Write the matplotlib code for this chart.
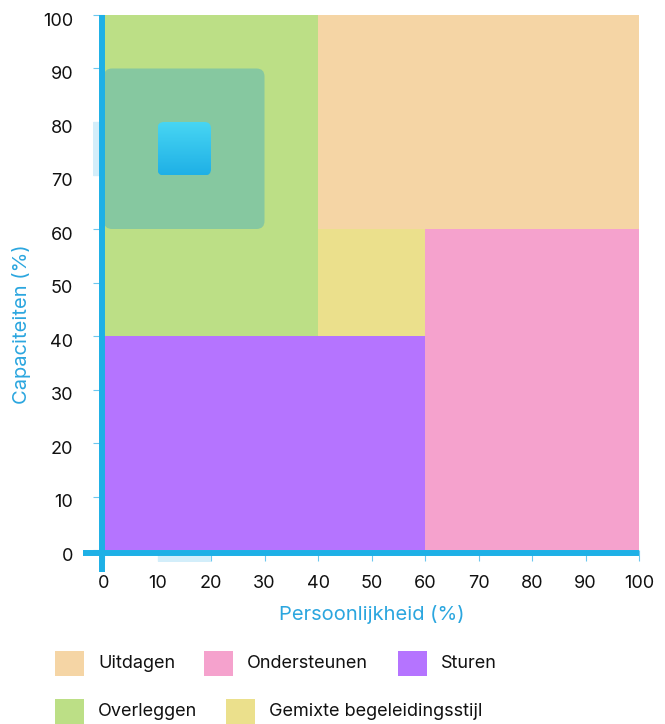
import numpy as np
import matplotlib
matplotlib.use("Agg")
import matplotlib.pyplot as plt
import matplotlib.transforms as mtransforms
from matplotlib.patches import Rectangle, FancyBboxPatch

plt.rcParams["font.family"] = ["Inter", "DejaVu Sans"]

# zones of the matrix (x = Persoonlijkheid, y = Capaciteiten)
zone_names = ["Uitdagen", "Ondersteunen", "Sturen", "Overleggen", "Gemixte begeleidingsstijl"]
zone_x0 = [40, 60, 0, 0, 40]
zone_x1 = [100, 100, 60, 40, 60]
zone_y0 = [60, 0, 0, 40, 40]
zone_y1 = [100, 60, 40, 100, 60]
zone_colors = ["#f5d5a5", "#f5a2cd", "#b574ff", "#bcdf86", "#ebe08c"]

# highlighted range and the selected point
range_x = [0, 30]
range_y = [60, 90]
point_x = [10, 20]
point_y = [70, 80]

ticks = [0, 10, 20, 30, 40, 50, 60, 70, 80, 90, 100]

BLUE = "#1eb0e6"
LABEL_BLUE = "#2ba6df"
W, H = 665, 724

fig = plt.figure(figsize=(W / 100, H / 100), dpi=100)
ax = fig.add_axes([104 / W, 1 - 550 / H, 535 / W, 535 / H])
ax.set_xlim(0, 100)
ax.set_ylim(0, 100)
for s in ax.spines.values():
    s.set_visible(False)

for x0, x1, y0, y1, c in zip(zone_x0, zone_x1, zone_y0, zone_y1, zone_colors):
    ax.add_patch(Rectangle((x0, y0), x1 - x0, y1 - y0, facecolor=c, edgecolor="none", zorder=1))

ax.add_patch(FancyBboxPatch((range_x[0], range_y[0]), range_x[1] - range_x[0], range_y[1] - range_y[0],
                            boxstyle="round,pad=0,rounding_size=1.5",
                            facecolor="#86c8a0", edgecolor="none", zorder=2))

# point square with vertical gradient (light at top)
clip = FancyBboxPatch((point_x[0], point_y[0]), point_x[1] - point_x[0], point_y[1] - point_y[0],
                      boxstyle="round,pad=0,rounding_size=1.2",
                      facecolor="none", edgecolor="none", zorder=3)
ax.add_patch(clip)
grad = np.linspace(0, 1, 64).reshape(-1, 1)
cmap = matplotlib.colors.LinearSegmentedColormap.from_list("g", ["#48d6f3", "#1fb0e6"])
im = ax.imshow(grad, cmap=cmap, extent=(point_x[0], point_x[1], point_y[0], point_y[1]),
               origin="upper", aspect="auto", zorder=3, interpolation="bilinear")
im.set_clip_path(clip)
ax.set_xlim(0, 100)
ax.set_ylim(0, 100)

# projection bands of the point on both axes
ax.add_patch(Rectangle((point_x[0], -2.25), point_x[1] - point_x[0], 1.15,
                       facecolor="#d3eefa", edgecolor="none", clip_on=False, zorder=4))
ax.add_patch(Rectangle((-2.05, point_y[0]), 1.15, point_y[1] - point_y[0],
                       facecolor="#d3eefa", edgecolor="none", clip_on=False, zorder=4))

# axis lines
ax.plot([-0.37, -0.37], [-4.1, 100], color=BLUE, lw=4.3, solid_capstyle="butt", clip_on=False, zorder=6)
ax.plot([-3.9, 100], [-0.56, -0.56], color=BLUE, lw=4.3, solid_capstyle="butt", clip_on=False, zorder=6)

ax.set_xticks(ticks)
ax.set_yticks(ticks)
ax.tick_params(axis="both", length=8.2, width=0.8, color="#6cc8ef", labelsize=13, labelcolor="#111111")
ax.tick_params(axis="y", pad=14)
ax.tick_params(axis="x", pad=10)
shift = mtransforms.ScaledTranslation(0, -3 / 72, fig.dpi_scale_trans)
for lab in ax.get_yticklabels():
    lab.set_transform(lab.get_transform() + shift)

ax.set_xlabel("Persoonlijkheid (%)", color=LABEL_BLUE, fontsize=14.5)
ax.xaxis.set_label_coords(0.5, -(614 - 550) / 535, transform=ax.transAxes)
ax.xaxis.label.set_va("center")
ax.set_ylabel("Capaciteiten (%)", color=LABEL_BLUE, fontsize=14.5)
ax.yaxis.set_label_coords(-(104 - 22) / 535, (550 - 324) / 535, transform=ax.transAxes)
ax.yaxis.label.set_va("center")

# legend laid out in two wrapped rows
leg_sq_x = [55, 204, 398, 55, 226]
leg_row_y = [651, 651, 651, 699, 699]
for name, c, lx, ly in zip(zone_names, zone_colors, leg_sq_x, leg_row_y):
    fig.patches.append(Rectangle((lx / W, 1 - (ly + 25) / H), 29 / W, 25 / H,
                                 facecolor=c, edgecolor="none", transform=fig.transFigure, figure=fig))
    fig.text((lx + 43) / W, 1 - (ly + 12.5) / H, name, fontsize=13, color="#111111", va="center", ha="left")

fig.savefig("out.png", dpi=100)
